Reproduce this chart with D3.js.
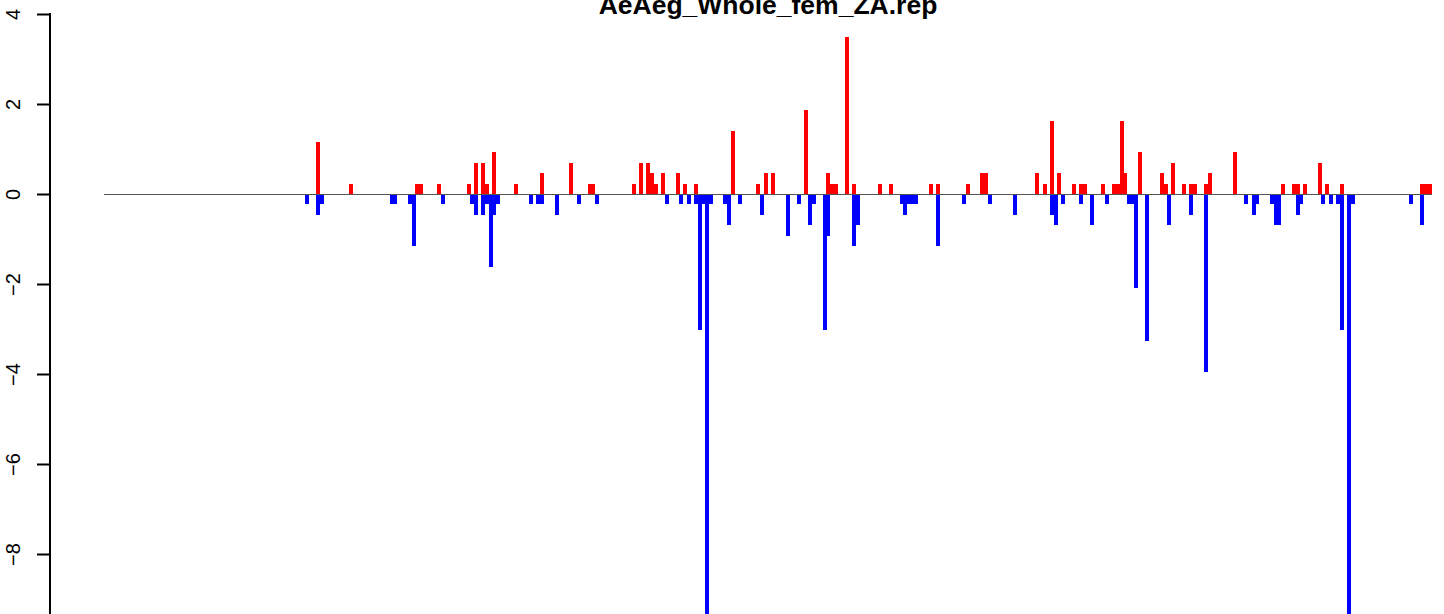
<!DOCTYPE html>
<html>
<head>
<meta charset="utf-8">
<script src="https://cdn.jsdelivr.net/npm/d3@7"></script>
<style>
  html, body { margin: 0; padding: 0; background: #fff; }
  svg { display: block; }
</style>
</head>
<body>
<svg id="chart" width="1444" height="614"></svg>
<script>
// ---- data ----
const title = "AeAeg_Whole_fem_ZA.rep";
const nBins = 362;
const yTicks = [4, 2, 0, -2, -4, -6, -8];

// gains (red): bin index and value
const gainBins = [58, 67, 85, 86, 91, 99, 101, 103, 104, 106, 112, 119, 127, 132, 133, 144, 146, 148, 149, 150,
  152, 156, 158, 161, 171, 178, 180, 182, 191, 197, 198, 199, 202, 204, 211, 214, 225, 227, 235, 239,
  240, 254, 256, 258, 260, 264, 266, 267, 272, 275, 276, 277, 278, 282, 288, 289, 291, 294, 296, 297,
  300, 301, 308, 321, 324, 325, 327, 331, 333, 337, 359, 360, 361];
const gainValues = [1.16, 0.23, 0.23, 0.23, 0.23, 0.23, 0.70, 0.70, 0.23, 0.93, 0.23, 0.47, 0.70, 0.23, 0.23, 0.23, 0.70, 0.70, 0.47, 0.23,
  0.47, 0.47, 0.23, 0.23, 1.40, 0.23, 0.47, 0.47, 1.86, 0.47, 0.23, 0.23, 3.49, 0.23, 0.23, 0.23, 0.23, 0.23, 0.23, 0.47,
  0.47, 0.47, 0.23, 1.63, 0.47, 0.23, 0.23, 0.23, 0.23, 0.23, 0.23, 1.63, 0.47, 0.93, 0.47, 0.23, 0.70, 0.23, 0.23, 0.23,
  0.23, 0.47, 0.93, 0.23, 0.23, 0.23, 0.23, 0.70, 0.23, 0.23, 0.23, 0.23, 0.23];

// losses (blue): bin index and value
const lossBins = [55, 58, 59, 78, 79, 83, 84, 92, 100, 101, 103, 104, 105, 106, 107, 116, 118, 119, 123, 129,
  134, 153, 157, 159, 161, 162, 163, 164, 165, 169, 170, 173, 179, 186, 189, 192, 193, 196, 197, 204,
  205, 217, 218, 219, 220, 221, 227, 234, 241, 248, 258, 259, 261, 266, 269, 273, 279, 280, 281, 284,
  290, 296, 300, 311, 313, 314, 318, 319, 320, 325, 326, 332, 334, 336, 337, 339, 340, 356, 359];
const lossValues = [-0.23, -0.47, -0.23, -0.23, -0.23, -0.23, -1.16, -0.23, -0.23, -0.47, -0.47, -0.23, -1.63, -0.47, -0.23, -0.23, -0.23, -0.23, -0.47, -0.23,
  -0.23, -0.23, -0.23, -0.23, -0.23, -3.02, -0.23, -10.0, -0.23, -0.23, -0.70, -0.23, -0.47, -0.93, -0.23, -0.70, -0.23, -3.02, -0.93, -1.16,
  -0.70, -0.23, -0.47, -0.23, -0.23, -0.23, -1.16, -0.23, -0.23, -0.47, -0.47, -0.70, -0.23, -0.23, -0.70, -0.23, -0.23, -0.23, -2.09, -3.26,
  -0.70, -0.47, -3.95, -0.23, -0.47, -0.23, -0.23, -0.70, -0.70, -0.47, -0.23, -0.23, -0.23, -0.23, -3.02, -10.0, -0.23, -0.23, -0.70];

// ---- drawing ----
const svg = d3.select("#chart");
const x = d3.scaleLinear().domain([0, nBins]).range([104, 1432]);
const y = d3.scaleLinear().domain([-10, 4]).range([644, 14]);
const barW = 4;

const gains = gainBins.map((b, i) => ({ b, v: gainValues[i] }));
const losses = lossBins.map((b, i) => ({ b, v: lossValues[i] }));

svg.append("g").selectAll("rect").data(gains).join("rect")
  .attr("x", d => Math.floor(x(d.b)))
  .attr("width", barW)
  .attr("y", d => Math.round(y(d.v)))
  .attr("height", d => y(0) - Math.round(y(d.v)))
  .attr("fill", "#ff0000")
  .attr("shape-rendering", "crispEdges");

svg.append("g").selectAll("rect").data(losses).join("rect")
  .attr("x", d => Math.floor(x(d.b)))
  .attr("width", barW)
  .attr("y", y(0))
  .attr("height", d => Math.round(y(d.v)) - y(0))
  .attr("fill", "#0000ff")
  .attr("shape-rendering", "crispEdges");

// zero line
svg.append("line")
  .attr("x1", x(0)).attr("x2", x(nBins))
  .attr("y1", y(0) + 0.5).attr("y2", y(0) + 0.5)
  .attr("stroke", "#555").attr("stroke-width", 1);

// y axis
const axis = d3.axisLeft(y).tickValues(yTicks).tickSize(13)
  .tickFormat(d => d < 0 ? "\u2212" + Math.abs(d) : String(d));
const gAxis = svg.append("g").attr("transform", "translate(50,0)").call(axis);
gAxis.select(".domain").remove();
gAxis.append("line").attr("x1", 0).attr("x2", 0).attr("y1", y(4) - 1).attr("y2", 620)
  .attr("stroke", "#000").attr("stroke-width", 2);
gAxis.selectAll(".tick line").attr("stroke", "#000").attr("stroke-width", 2);
gAxis.selectAll(".tick text")
  .attr("x", null).attr("dy", null)
  .attr("transform", "translate(-30.5,0) rotate(-90)")
  .attr("text-anchor", "middle")
  .attr("fill", "#000")
  .style("font-family", "'Liberation Sans', Arial, sans-serif")
  .style("font-size", "20px");

// title (cut at the top edge, as in the reference)
svg.append("text")
  .attr("x", 768).attr("y", 14)
  .attr("text-anchor", "middle")
  .style("font-family", "'Liberation Sans', Arial, sans-serif")
  .style("font-weight", "bold")
  .style("font-size", "26.5px")
  .text(title);
</script>
</body>
</html>
